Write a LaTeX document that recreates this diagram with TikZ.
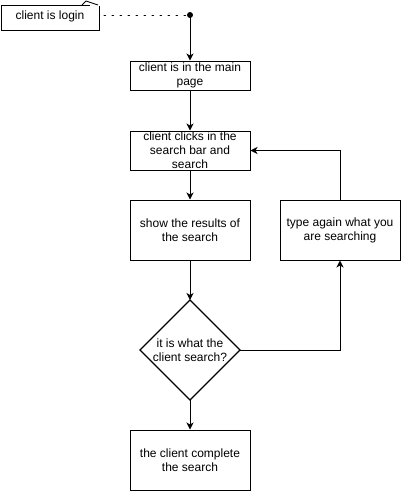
\documentclass[tikz,border=0pt]{standalone}
\usepackage{fontspec}
\setmainfont{Liberation Sans}
\usetikzlibrary{arrows.meta,positioning}
\begin{document}
\begin{tikzpicture}[x=1pt,y=-1pt,
  every node/.style={font=\fontsize{12}{14}\selectfont, inner sep=0pt, align=center},
  stepbox/.style={draw, line width=1pt, minimum width=120pt},
  flow/.style={draw, line width=1pt, -{Stealth[length=7pt,width=7pt,inset=2pt]}},
  plain/.style={draw, line width=1pt}]
\useasboundingbox (0,0) rectangle (401,491);

% start note with its curled corner
\draw[line width=1pt] (90,5) -- (1,5) -- (1,30) -- (99,30) -- (99,6);
\draw[line width=0.8pt] (82,5) -- (86,1) -- (98,5);
\node (login) at (50,16) {client is login};
\coordinate (loginR) at (101,15);

% start point
\fill (190,15) circle (3pt);
\coordinate (start) at (190,15);
\draw[line width=1pt, dash pattern=on 1.5pt off 6.5pt, line cap=round] (104,15) -- (start);

% process boxes
\node[stepbox, minimum height=29pt] (main) at (190,75.5) {client is in the main\\page};
\node[stepbox, minimum height=39pt] (clicks) at (190,150.5) {client clicks in the\\search bar and\\search};
\node[stepbox, minimum height=60pt] (results) at (190,230) {show the results of\\the search};
\node[stepbox, minimum height=60pt] (again) at (340,230) {type again what you\\are searching};
\node[stepbox, minimum height=60pt] (done) at (190,460) {the client complete\\the search};

% decision
\coordinate (dc) at (190,350);
\draw[line width=1.3pt] (190,300) coordinate (dtop) -- (240,350) coordinate (dright)
  -- (190,400) coordinate (dbot) -- (140,350) -- cycle;
\node (decision) at (dc) {it is what the\\client search?};

% connectors
\draw[flow] (start) -- (main.north);
\draw[flow] (main.south) -- (clicks.north);
\draw[flow] (clicks.south) -- (results.north);
\draw[flow] (results.south) -- (dtop);
\draw[flow] (dright) -| (again.south);
\draw[flow] (again.north) |- (clicks.east);
\draw[flow] (dbot) -- (done.north);
\end{tikzpicture}
\end{document}
